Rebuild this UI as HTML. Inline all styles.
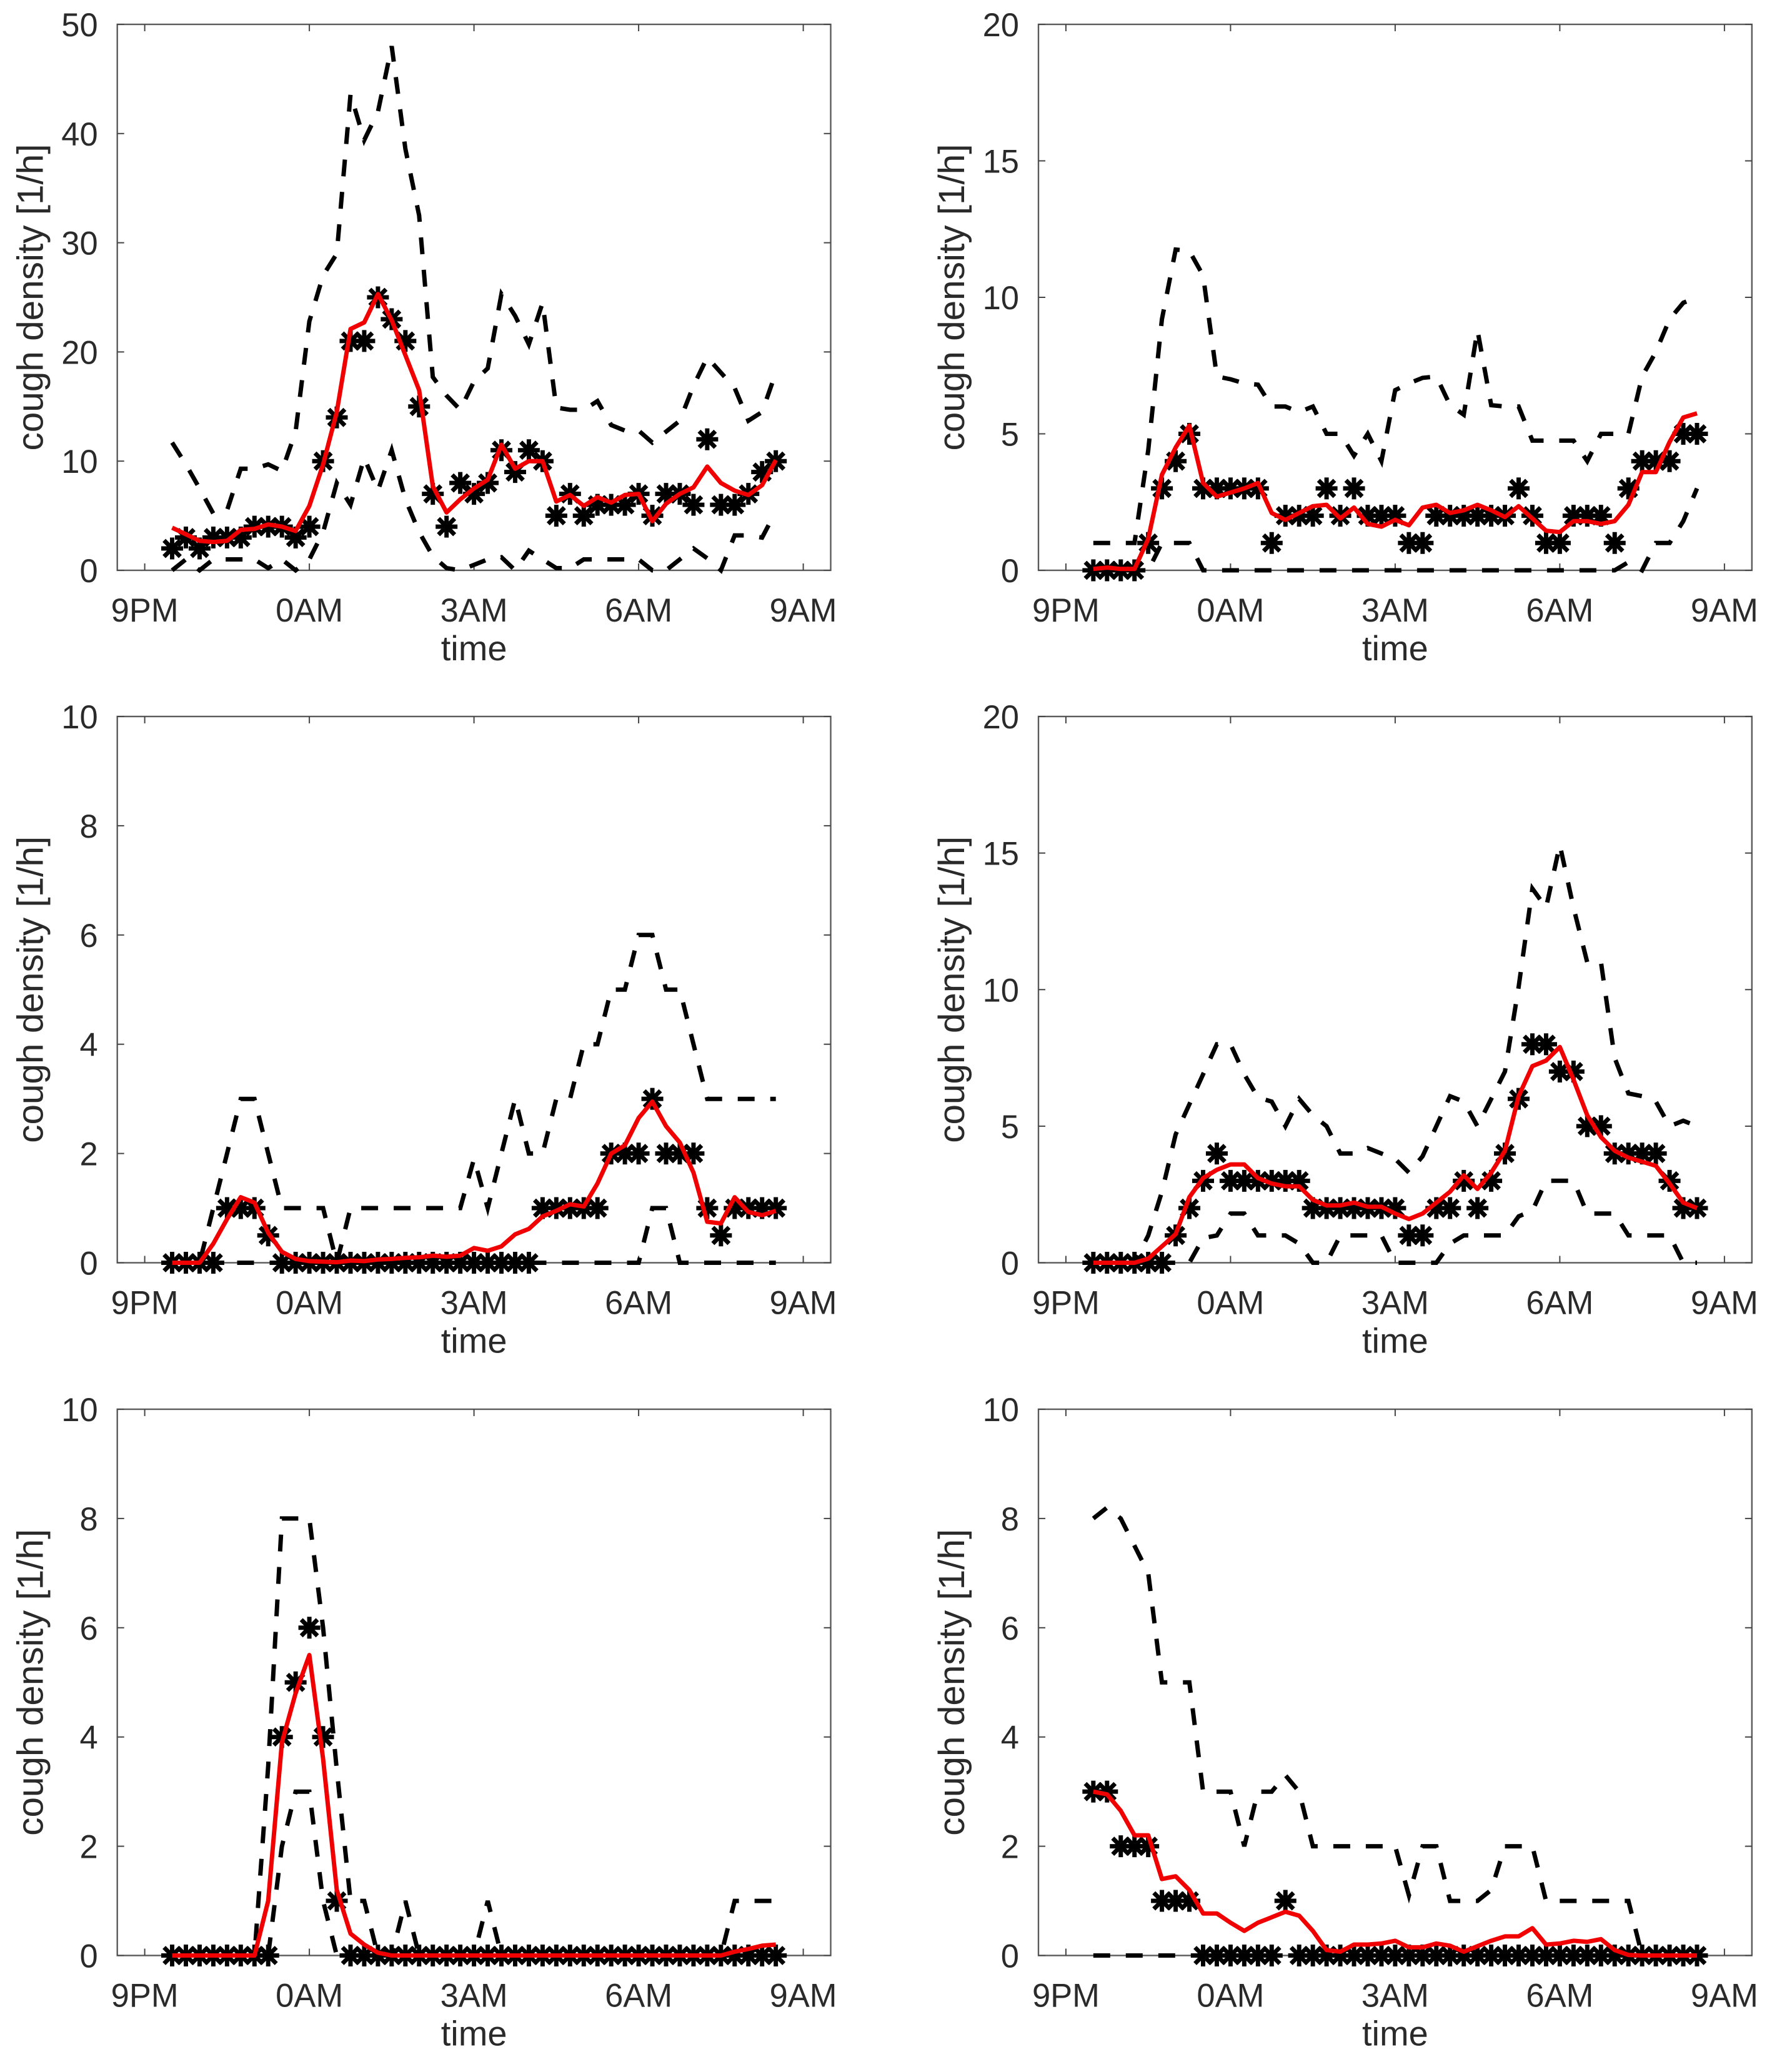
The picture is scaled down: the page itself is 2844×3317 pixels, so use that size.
<!DOCTYPE html>
<html lang="en">
<head>
<meta charset="utf-8">
<title>Cough density panels</title>
<style>
html,body{margin:0;padding:0;background:#fff;}
svg{display:block;}
text{font-family:"Liberation Sans",Arial,sans-serif;fill:#2a2a2a;}
</style>
</head>
<body>
<svg id="figure" xmlns="http://www.w3.org/2000/svg" width="2844" height="3317" viewBox="0 0 2844 3317"></svg>
<script>
// x axis
const xTickHours = [21, 24, 27, 30, 33];
const xTickLabels = ['9PM', '0AM', '3AM', '6AM', '9AM'];
const firstSampleHour = 21.5;
const sampleStepHours = 0.25;

// panel 1
const p1YTicks = [0, 10, 20, 30, 40, 50];
const p1Upper = [11.7,9.7,7.5,5.2,5.5,9.3,9.3,9.7,9.1,12.7,22.8,27,29,43.6,39.4,42,48,38.6,32.5,17.7,16,14.7,17.3,18.5,25.3,23.3,20.7,24.5,14.9,14.7,14.7,15.5,13.3,12.8,12.8,11.7,12.7,13.7,16.9,19.5,18.1,16.7,13.7,14.5,18.1];
const p1Lower = [0,1,0,1,1,1,1,0.2,1,0,1,3.5,8,6,10.3,7.3,11,6.5,3.5,1.3,0.2,0,0.5,1,1.2,0,1.8,1,0.2,0.2,1,1,1,1,1,0,0,1,2,1.1,0,3.2,3.2,3,5.4];
const p1Markers = [2,3,2,3,3,3,4,4,4,3,4,10,14,21,21,25,23,21,15,7,4,8,7,8,11,9,11,10,5,7,5,6,6,6,7,5,7,7,6,12,6,6,7,9,10];
const p1Mean = [3.9,3.3,2.7,2.6,2.7,3.7,3.8,4.2,4,3.6,5.9,9.7,14.5,22.1,22.7,25.3,22.9,19.7,16.5,7.7,5.3,6.5,7.5,8.3,11.5,9.3,10,10,6.3,6.9,5.9,6.7,6.2,6.9,7,4.5,6.1,7,7.6,9.5,8,7.3,6.9,7.8,10.1];

// panel 2
const p2YTicks = [0, 5, 10, 15, 20];
const p2Upper = [1,1,1,1,4.4,9.2,11.75,11.7,10.8,7.1,7,6.85,6.8,6,6,5.8,6,5,5,4.2,5,4,6.6,6.85,7.05,7.1,6.05,5.7,8.8,6.05,6,6,4.75,4.75,4.75,4.75,4,5,5,5,7.1,8,9.2,9.8,10];
const p2Lower = [0,0,0,0,0,1,1,1,0,0,0,0,0,0,0,0,0,0,0,0,0,0,0,0,0,0,0,0,0,0,0,0,0,0,0,0,0,0,0,0.3,0,1,1,1.8,3];
const p2Markers = [0,0,0,0,1,3,4,5,3,3,3,3,3,1,2,2,2,3,2,3,2,2,2,1,1,2,2,2,2,2,2,3,2,1,1,2,2,2,1,3,4,4,4,5,5];
const p2Mean = [0.05,0.1,0.05,0.05,1.15,3.5,4.5,5.3,3.2,2.7,2.85,3,3.2,2.1,1.85,2.1,2.35,2.4,1.9,2.3,1.7,1.6,1.85,1.65,2.3,2.4,2.1,2.2,2.4,2.2,1.95,2.35,1.9,1.45,1.4,1.8,1.8,1.7,1.8,2.4,3.6,3.6,4.7,5.6,5.75];

// panel 3
const p3YTicks = [0, 2, 4, 6, 8, 10];
const p3Upper = [0,0,0,1,2,3,3,2,1,1,1,1,0,1,1,1,1,1,1,1,1,1,1.9,1,2,3,2,2,3,3,4,4,5,5,6,6,5,5,4,3,3,3,3,3,3];
const p3Lower = [0,0,0,0,0,0,0,0,0,0,0,0,0,0,0,0,0,0,0,0,0,0,0,0,0,0,0,0,0,0,0,0,0,0,0,1,1,0,0,0,0,0,0,0,0];
const p3Markers = [0,0,0,0,1,1,1,0.5,0,0,0,0,0,0,0,0,0,0,0,0,0,0,0,0,0,0,0,1,1,1,1,1,2,2,2,3,2,2,2,1,0.5,1,1,1,1];
const p3Mean = [0,0,0,0.35,0.8,1.2,1.1,0.55,0.2,0.07,0.03,0.02,0.01,0.04,0.03,0.06,0.07,0.09,0.1,0.13,0.11,0.13,0.27,0.22,0.3,0.52,0.62,0.85,0.95,1.07,1.03,1.45,2,2.15,2.65,2.95,2.5,2.2,1.65,0.75,0.72,1.2,0.93,0.87,0.95];

// panel 4
const p4YTicks = [0, 5, 10, 15, 20];
const p4Upper = [0,0,0,0,1,2.6,4.7,5.8,6.9,8,8,6.9,6.05,5.9,5,6,5.4,5,4,4,4.2,4,3.8,3.3,3.9,5,6.1,5.9,5,6,7,10.1,13.7,13,15.3,13,11,11,7.5,6.2,6.1,5.9,5,5.2,5];
const p4Lower = [0,0,0,0,0,0,0,0,0.9,1,1.8,1.8,1,1,1,0.7,0,0,1,1,1,1,0,0,0,0,0.7,1,1,1,1,1.7,1.9,3,3,3,1.8,1.8,1.8,1,1,1,1,0,0];
const p4Markers = [0,0,0,0,0,0,1,2,3,4,3,3,3,3,3,3,2,2,2,2,2,2,2,1,1,2,2,3,2,3,4,6,8,8,7,7,5,5,4,4,4,4,3,2,2];
const p4Mean = [0,0,0,0,0.15,0.6,1.05,2.4,3.1,3.4,3.6,3.6,3.1,2.9,2.8,2.8,2.3,2.1,2.1,2.2,2.05,2.05,1.8,1.6,1.8,2.2,2.6,3.2,2.7,3.3,4.1,6.1,7.2,7.4,7.9,6.7,5.4,4.6,4.1,3.85,3.7,3.55,2.9,2.2,2];

// panel 5
const p5YTicks = [0, 2, 4, 6, 8, 10];
const p5Upper = [0,0,0,0,0,0,0,3.46,8,8,8,6,3.4,1,1,0,0,1,0,0,0,0,0,1,0,0,0,0,0,0,0,0,0,0,0,0,0,0,0,0,0,1,1,1,1];
const p5Lower = [0,0,0,0,0,0,0,0,2,3,3,1,0,0,0,0,0,0,0,0,0,0,0,0,0,0,0,0,0,0,0,0,0,0,0,0,0,0,0,0,0,0,0,0,0];
const p5Markers = [0,0,0,0,0,0,0,0,4,5,6,4,1,0,0,0,0,0,0,0,0,0,0,0,0,0,0,0,0,0,0,0,0,0,0,0,0,0,0,0,0,0,0,0,0];
const p5Mean = [0,0,0,0,0,0,0,1,3.9,4.8,5.5,3.6,1.2,0.4,0.2,0.05,0,0,0,0,0,0,0,0,0,0,0,0,0,0,0,0,0,0,0,0,0,0,0,0,0,0.07,0.12,0.18,0.2];

// panel 6
const p6YTicks = [0, 2, 4, 6, 8, 10];
const p6Upper = [8,8.2,8,7.5,7,5,5,5,3,3,3,2,3,3,3.3,3,2,2,2,2,2,2,2,1.1,2,2,1,1,1,1.2,2,2,2,1,1,1,1,1,1,1,0,0,0,0,0];
const p6Lower = [0,0,0,0,0,0,0,0,0,0,0,0,0,0,0,0,0,0,0,0,0,0,0,0,0,0,0,0,0,0,0,0,0,0,0,0,0,0,0,0,0,0,0,0,0];
const p6Markers = [3,3,2,2,2,1,1,1,0,0,0,0,0,0,1,0,0,0,0,0,0,0,0,0,0,0,0,0,0,0,0,0,0,0,0,0,0,0,0,0,0,0,0,0,0];
const p6Mean = [3,2.95,2.65,2.2,2.2,1.4,1.45,1.2,0.77,0.77,0.6,0.45,0.6,0.7,0.8,0.73,0.45,0.1,0.07,0.2,0.2,0.22,0.27,0.15,0.15,0.22,0.18,0.07,0.17,0.27,0.35,0.35,0.5,0.2,0.22,0.27,0.25,0.3,0.1,0.01,0,0,0,0,0];

const SVG_NS = 'http://www.w3.org/2000/svg';
const figure = document.getElementById('figure');

const columns = [{left: 187.7, right: 1329.5}, {left: 1662, right: 2803.8}];
const rows = [{top: 39, bottom: 913}, {top: 1147, bottom: 2021.5}, {top: 2256, bottom: 3130.5}];

function make(tag, attrs, parent) {
  const el = document.createElementNS(SVG_NS, tag);
  Object.keys(attrs).forEach(function (k) { el.setAttribute(k, attrs[k]); });
  parent.appendChild(el);
  return el;
}

function pointsString(values, xOf, yOf) {
  return values.map(function (v, i) {
    return xOf(firstSampleHour + i * sampleStepHours).toFixed(1) + ',' + yOf(v).toFixed(1);
  }).join(' ');
}

function drawPanel(id, col, row, yTicks, upper, lower, markers, mean) {
  const c = columns[col], r = rows[row];
  const yMax = yTicks[yTicks.length - 1];
  const xOf = function (h) { return c.left + (h - 20.5) / 13 * (c.right - c.left); };
  const yOf = function (v) { return r.bottom - v / yMax * (r.bottom - r.top); };

  const g = make('g', {}, figure);
  
  

  // axes box
  const box = make('rect', {x: c.left, y: r.top, width: c.right - c.left, height: r.bottom - r.top, fill: 'none', stroke: '#5a5a5a', 'stroke-width': 2.4}, g);
  
  

  // x ticks
  xTickHours.forEach(function (h, i) {
    const x = xOf(h);
    const bottomTick = make('line', {x1: x, x2: x, y1: r.bottom, y2: r.bottom - 11, stroke: '#444', 'stroke-width': 2}, g);
    
    
    const topTick = make('line', {x1: x, x2: x, y1: r.top, y2: r.top + 11, stroke: '#444', 'stroke-width': 2}, g);
    
    
    const label = make('text', {x: x, y: r.bottom + 82, 'text-anchor': 'middle', 'font-size': 52.5}, g);
    label.textContent = xTickLabels[i];
    
    
  });

  // y ticks
  yTicks.forEach(function (v) {
    const y = yOf(v);
    const leftTick = make('line', {x1: c.left, x2: c.left + 11, y1: y, y2: y, stroke: '#444', 'stroke-width': 2}, g);
    
    
    const rightTick = make('line', {x1: c.right, x2: c.right - 11, y1: y, y2: y, stroke: '#444', 'stroke-width': 2}, g);
    
    
    const label = make('text', {x: c.left - 31, y: y + 19, 'text-anchor': 'end', 'font-size': 52.5}, g);
    label.textContent = String(v);
    
    
  });

  // axis titles
  const midX = (c.left + c.right) / 2, midY = (r.top + r.bottom) / 2;
  const xTitle = make('text', {x: midX, y: r.bottom + 144, 'text-anchor': 'middle', 'font-size': 56}, g);
  xTitle.textContent = 'time';
  
  
  const yLabelX = c.left - 119;
  const yTitle = make('text', {x: yLabelX, y: midY, 'text-anchor': 'middle', 'font-size': 58.5, transform: 'rotate(-90 ' + yLabelX + ' ' + midY + ')'}, g);
  yTitle.textContent = 'cough density [1/h]';
  
  

  // dashed bounds
  const upperLine = make('polyline', {points: pointsString(upper, xOf, yOf), fill: 'none', stroke: '#000', 'stroke-width': 7, 'stroke-dasharray': '27 25', 'stroke-linejoin': 'miter'}, g);
  
  
  const lowerLine = make('polyline', {points: pointsString(lower, xOf, yOf), fill: 'none', stroke: '#000', 'stroke-width': 7, 'stroke-dasharray': '27 25', 'stroke-linejoin': 'miter'}, g);
  
  

  // asterisk markers
  const R = 17.5, D = R * 0.74;
  markers.forEach(function (v, i) {
    const x = xOf(firstSampleHour + i * sampleStepHours), y = yOf(v);
    const d = 'M' + (x - R) + ' ' + y + 'H' + (x + R) +
              'M' + x + ' ' + (y - R) + 'V' + (y + R) +
              'M' + (x - D) + ' ' + (y - D) + 'L' + (x + D) + ' ' + (y + D) +
              'M' + (x - D) + ' ' + (y + D) + 'L' + (x + D) + ' ' + (y - D);
    const m = make('path', {d: d, fill: 'none', stroke: '#000', 'stroke-width': 7}, g);
    
    
  });

  // red mean line
  const meanLine = make('polyline', {points: pointsString(mean, xOf, yOf), fill: 'none', stroke: '#f00000', 'stroke-width': 7, 'stroke-linejoin': 'round'}, g);
  
  
}

drawPanel(1, 0, 0, p1YTicks, p1Upper, p1Lower, p1Markers, p1Mean);
drawPanel(2, 1, 0, p2YTicks, p2Upper, p2Lower, p2Markers, p2Mean);
drawPanel(3, 0, 1, p3YTicks, p3Upper, p3Lower, p3Markers, p3Mean);
drawPanel(4, 1, 1, p4YTicks, p4Upper, p4Lower, p4Markers, p4Mean);
drawPanel(5, 0, 2, p5YTicks, p5Upper, p5Lower, p5Markers, p5Mean);
drawPanel(6, 1, 2, p6YTicks, p6Upper, p6Lower, p6Markers, p6Mean);
</script>
</body>
</html>
